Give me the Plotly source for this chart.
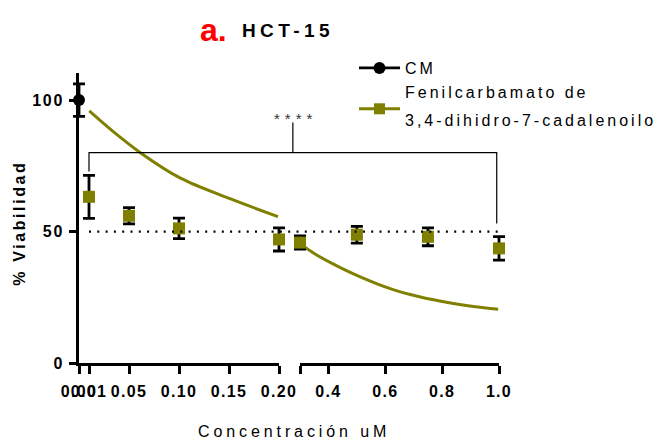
import plotly.graph_objects as go

# ---------------- data ----------------
cm_conc = [0.0]
cm_via = [100.0]
cm_err = [6.2]

conc_low = [0.01, 0.05, 0.10, 0.20]
via_low = [63.2, 56.0, 51.2, 47.0]
err_low = [8.2, 3.1, 3.9, 4.4]

conc_high = [0.30, 0.50, 0.75, 1.00]
via_high = [45.8, 48.8, 48.0, 43.6]
err_high = [2.5, 3.2, 3.4, 4.5]

fit_low_x = [0.0103, 0.0343, 0.061, 0.101, 0.151, 0.199]
fit_low_y = [95.9, 88.0, 80.1, 70.4, 62.5, 55.7]
fit_high_x = [0.30, 0.36, 0.44, 0.52, 0.62, 0.72, 0.82, 0.91, 0.997]
fit_high_y = [45.4, 41.0, 36.4, 32.4, 28.2, 25.2, 23.0, 21.5, 20.4]

ticks_low = [0.0, 0.01, 0.05, 0.10, 0.15, 0.20]
ticks_low_text = ["0.00", "0.01", "0.05", "0.10", "0.15", "0.20"]
ticks_high = [0.3, 0.4, 0.6, 0.8, 1.0]
ticks_high_text = ["", "0.4", "0.6", "0.8", "1.0"]
yticks = [0, 50, 100]

threshold = 50
bracket_left_bottom, bracket_top, bracket_right_bottom, bracket_mark = 72.8, 80.0, 53.1, 91.5
sig_text = "****"
legend_cm = "CM"
legend_cpd = ["Fenilcarbamato de", "3,4-dihidro-7-cadalenoilo"]

OLIVE = "#808000"
BLACK = "#000000"


def spaced(s, ls, extra=""):
    """Real text with CSS letter spacing (as in the Prism export)."""
    return f"<span style='letter-spacing:{ls}px;{extra}'>{s}</span>"


# ---------------- layout geometry ----------------
W, H = 659, 439
ML, MR, MT, MB = 59, 140, 73, 76
PW = W - ML - MR
PH = H - MT - MB


def px(pix):
    return (pix - ML) / PW


def py(pix):
    return (H - MB - pix) / PH


DOM1 = [px(79), px(279)]
DOM2 = [px(300), px(499)]
RANGE1 = [0.0, 0.20]
RANGE2 = [0.30, 1.00]
PAD = 12  # px of unclipped room for markers / error caps at the segment ends


def padded(dom, rng):
    per_px = (rng[1] - rng[0]) / ((dom[1] - dom[0]) * PW)
    return ([dom[0] - PAD / PW, dom[1] + PAD / PW],
            [rng[0] - PAD * per_px, rng[1] + PAD * per_px])


DOM5, RANGE5 = padded(DOM1, RANGE1)
DOM6, RANGE6 = padded(DOM2, RANGE2)


def paper_x(v):
    if v <= RANGE1[1]:
        r, d = RANGE1, DOM1
    else:
        r, d = RANGE2, DOM2
    return d[0] + (v - r[0]) / (r[1] - r[0]) * (d[1] - d[0])


fig = go.Figure()

err_style = dict(type="data", visible=True, color=BLACK, thickness=2.8, width=6)

# fitted curves
fig.add_trace(go.Scatter(x=fit_low_x, y=fit_low_y, mode="lines", xaxis="x", yaxis="y",
                         line=dict(color=OLIVE, width=3, shape="spline"),
                         showlegend=False, hoverinfo="skip"))
fig.add_trace(go.Scatter(x=fit_high_x, y=fit_high_y, mode="lines", xaxis="x2", yaxis="y",
                         line=dict(color=OLIVE, width=3, shape="spline"),
                         showlegend=False, hoverinfo="skip"))

# data squares (on hidden, same-scale axes that leave room for the end caps)
fig.add_trace(go.Scatter(x=conc_low, y=via_low, mode="markers", xaxis="x5", yaxis="y",
                         marker=dict(symbol="square", size=12, color=OLIVE),
                         error_y=dict(array=err_low, **err_style),
                         cliponaxis=False, showlegend=False))
fig.add_trace(go.Scatter(x=conc_high, y=via_high, mode="markers", xaxis="x6", yaxis="y",
                         marker=dict(symbol="square", size=12, color=OLIVE),
                         error_y=dict(array=err_high, **err_style),
                         cliponaxis=False, showlegend=False))

# control
fig.add_trace(go.Scatter(x=cm_conc, y=cm_via, mode="lines+markers", xaxis="x5", yaxis="y",
                         name=spaced(legend_cm, 3), legend="legend",
                         marker=dict(symbol="circle", size=12, color=BLACK),
                         line=dict(color=BLACK, width=2.8),
                         error_y=dict(array=cm_err, **err_style),
                         cliponaxis=False))

# legend entry for compound (wide line pitch like the original, 16px glyphs)
fig.add_trace(go.Scatter(x=[None], y=[None], mode="lines+markers", xaxis="x", yaxis="y",
                         name="<br>".join(spaced(s, 3, "font-size:16px;baseline-shift:5.5px")
                                          for s in legend_cpd),
                         legend="legend2",
                         marker=dict(symbol="square", size=11, color=OLIVE),
                         line=dict(color=OLIVE, width=3)))

# empty traces for the break-mark overlay axes
fig.add_trace(go.Scatter(x=[None], y=[None], xaxis="x3", yaxis="y", showlegend=False, hoverinfo="skip"))
fig.add_trace(go.Scatter(x=[None], y=[None], xaxis="x4", yaxis="y", showlegend=False, hoverinfo="skip"))

axis_common = dict(showgrid=False, zeroline=False, showline=True, linecolor=BLACK, linewidth=2.6,
                   ticks="outside", tickcolor=BLACK, tickwidth=2.6, ticklen=8,
                   tickfont=dict(size=16, color=BLACK, weight="bold"), tickangle=0,
                   ticklabelstandoff=4, fixedrange=True)
break_common = dict(anchor="y", showline=False, showgrid=False, zeroline=False, ticks="inside",
                    ticklen=7, tickwidth=2.6, tickcolor=BLACK, showticklabels=False, fixedrange=True)
hidden = dict(visible=False, anchor="y", fixedrange=True)

LEG2_FONT = 28.3 / 1.3

fig.update_layout(
    width=W, height=H,
    margin=dict(l=ML, r=MR, t=MT, b=MB, autoexpand=False),
    paper_bgcolor="white", plot_bgcolor="rgba(0,0,0,0)",
    font=dict(family="Liberation Sans", color=BLACK, size=16),
    xaxis=dict(domain=DOM1, range=RANGE1, anchor="y", tickmode="array",
               tickvals=ticks_low, ticktext=[spaced(t, 1.3) for t in ticks_low_text], **axis_common),
    xaxis2=dict(domain=DOM2, range=RANGE2, anchor="y", tickmode="array",
                tickvals=ticks_high, ticktext=[spaced(t, 1.3) if t else t for t in ticks_high_text],
                **axis_common),
    xaxis3=dict(overlaying="x", range=RANGE1, tickvals=[RANGE1[1]], **break_common),
    xaxis4=dict(overlaying="x2", range=RANGE2, tickvals=[RANGE2[0]], **break_common),
    xaxis5=dict(domain=DOM5, range=RANGE5, **hidden),
    xaxis6=dict(domain=DOM6, range=RANGE6, **hidden),
    yaxis=dict(domain=[0, 1], range=[0, 110.3], anchor="x", tickmode="array",
               tickvals=yticks, ticktext=[spaced(str(v), 1.7) for v in yticks],
               **{**axis_common, "ticklen": 7, "ticklabelstandoff": 2}),
    legend=dict(x=px(354), y=py(51), xanchor="left", yanchor="top",
                bgcolor="rgba(0,0,0,0)", font=dict(size=16, color=BLACK), itemwidth=41),
    legend2=dict(x=px(354), y=py(108.8 - 5 - (2 * 28.3 + 3) / 2), xanchor="left", yanchor="top",
                 bgcolor="rgba(0,0,0,0)", font=dict(size=LEG2_FONT, color=BLACK), itemwidth=41),
    showlegend=True,
    hovermode=False,
)

# dotted 50% line and significance bracket
xl = paper_x(conc_low[0])
xr = paper_x(0.992)
xm = (xl + xr) / 2
fig.add_shape(type="line", xref="paper", yref="y", x0=xl, x1=paper_x(conc_high[-1]),
              y0=threshold, y1=threshold,
              line=dict(color=BLACK, width=2.2, dash="2px,6.3px"))
fig.add_shape(type="path", xref="paper", yref="y",
              path=f"M{xl},{bracket_left_bottom} L{xl},{bracket_top} L{xr},{bracket_top} L{xr},{bracket_right_bottom}",
              line=dict(color=BLACK, width=1.2))
fig.add_shape(type="line", xref="paper", yref="y", x0=xm, x1=xm, y0=bracket_top, y1=bracket_mark,
              line=dict(color=BLACK, width=1.2))

fig.add_annotation(text="a.", xref="paper", yref="paper", x=px(198), y=py(29.8),
                   xanchor="left", yanchor="middle", showarrow=False,
                   font=dict(size=32, color="#ff0000", weight="bold"))
fig.add_annotation(text=spaced("HCT-15", 4.4), xref="paper", yref="paper", x=px(240), y=py(30.4),
                   xanchor="left", yanchor="middle", showarrow=False,
                   font=dict(size=19, color=BLACK, weight="bold"))
fig.add_annotation(text=spaced("% Viabilidad", 2.6), xref="paper", yref="paper", x=px(19.4), y=py(223.3),
                   xanchor="center", yanchor="middle", textangle=-90, showarrow=False,
                   font=dict(size=16, color=BLACK, weight="bold"))
fig.add_annotation(text=spaced("Concentración uM", 3.9), xref="paper", yref="paper", x=px(293.7),
                   y=py(431.4), xanchor="center", yanchor="middle", showarrow=False,
                   font=dict(size=16, color=BLACK))
fig.add_annotation(text=spaced(sig_text, 5), xref="paper", yref="y", x=xm + 2.5 / PW, y=92.9,
                   xanchor="center", yanchor="middle", showarrow=False,
                   font=dict(size=15, color="#333333"))

fig.write_html("out.html", config={"displayModeBar": False})
